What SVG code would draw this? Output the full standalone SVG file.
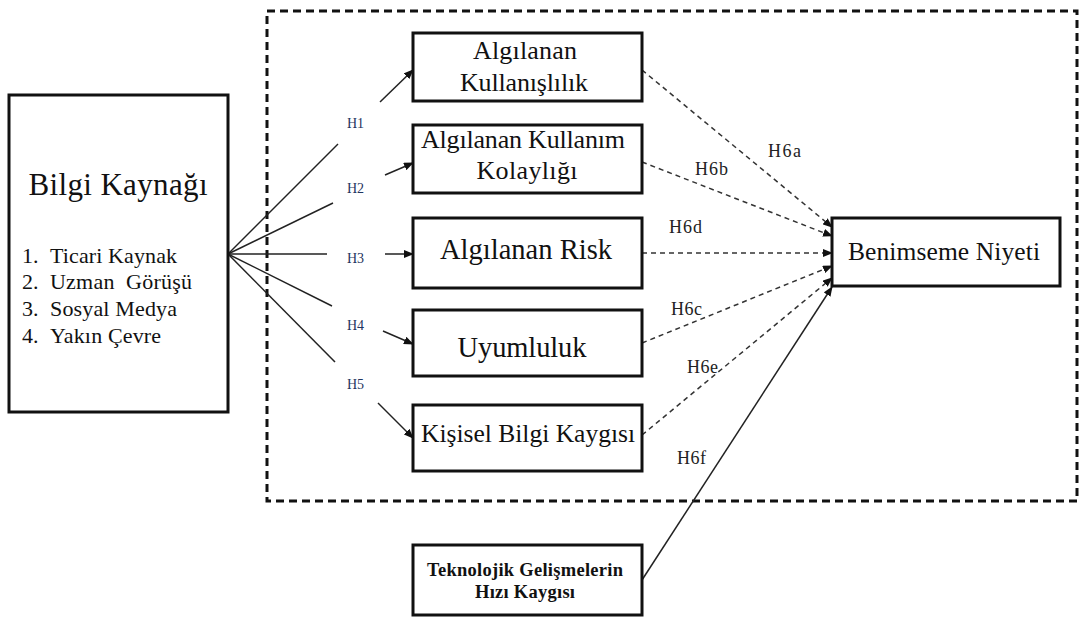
<svg xmlns="http://www.w3.org/2000/svg" width="1080" height="617" viewBox="0 0 1080 617">
  <style>
    .box { fill: #fff; stroke: #111; stroke-width: 3; }
    .frame { fill: none; stroke: #111; stroke-width: 3; stroke-dasharray: 8 5; }
    .t { font-family: "Liberation Serif", "Times New Roman", serif; fill: #111; }
    .c { text-anchor: middle; }
    .hl { font-family: "Liberation Serif", "Times New Roman", serif; font-size: 14px; fill: #1f3560; }
    .h6 { font-family: "Liberation Serif", "Times New Roman", serif; font-size: 18px; fill: #222; }
    .ln { stroke: #222; stroke-width: 1.5; fill: none; }
    .dl { stroke: #333; stroke-width: 1.5; fill: none; stroke-dasharray: 5 4; }
  </style>
  <defs>
    <marker id="arr" markerUnits="userSpaceOnUse" markerWidth="10" markerHeight="8" refX="9" refY="4" orient="auto">
      <path d="M0,0 L10,4 L0,8 Z" fill="#111"/>
    </marker>
  </defs>

  <rect width="1080" height="617" fill="#fff"/>

  <!-- dashed boundary around the mediating constructs -->
  <rect class="frame" x="267" y="11" width="810" height="490"/>

  <g id="connectors">
    <!-- fan from the information source -->
    <line class="ln" x1="228" y1="254" x2="338" y2="144"/>
    <line class="ln" x1="228" y1="254" x2="333" y2="203"/>
    <line class="ln" x1="228" y1="254" x2="327" y2="254"/>
    <line class="ln" x1="228" y1="254" x2="332" y2="306"/>
    <line class="ln" x1="228" y1="254" x2="335" y2="362"/>
    <!-- arrow stubs into the constructs -->
    <line class="ln" x1="380" y1="102" x2="413" y2="70" marker-end="url(#arr)"/>
    <line class="ln" x1="385" y1="175" x2="413" y2="163" marker-end="url(#arr)"/>
    <line class="ln" x1="385" y1="254" x2="413" y2="254" marker-end="url(#arr)"/>
    <line class="ln" x1="383" y1="331" x2="413" y2="344" marker-end="url(#arr)"/>
    <line class="ln" x1="378" y1="403" x2="413" y2="438" marker-end="url(#arr)"/>
    <!-- dashed paths to adoption intention -->
    <line class="dl" x1="642" y1="70" x2="832" y2="227" marker-end="url(#arr)"/>
    <line class="dl" x1="642" y1="162" x2="832" y2="236" marker-end="url(#arr)"/>
    <line class="dl" x1="642" y1="253" x2="832" y2="253" marker-end="url(#arr)"/>
    <line class="dl" x1="642" y1="343" x2="832" y2="266" marker-end="url(#arr)"/>
    <line class="dl" x1="642" y1="435" x2="832" y2="278" marker-end="url(#arr)"/>
    <line class="ln" x1="642" y1="580" x2="832" y2="287" marker-end="url(#arr)"/>

    <!-- hypothesis labels -->
    <text class="hl" x="347" y="128">H1</text>
    <text class="hl" x="347" y="193">H2</text>
    <text class="hl" x="347" y="263">H3</text>
    <text class="hl" x="347" y="330">H4</text>
    <text class="hl" x="347" y="389">H5</text>
    <text class="h6" x="768" y="157" textLength="33">H6a</text>
    <text class="h6" x="695" y="175" textLength="33">H6b</text>
    <text class="h6" x="669" y="233" textLength="33">H6d</text>
    <text class="h6" x="671" y="315" textLength="31">H6c</text>
    <text class="h6" x="687" y="373" textLength="31">H6e</text>
    <text class="h6" x="677" y="464" textLength="29">H6f</text>
  </g>

  <g id="bilgi-kaynagi">
    <rect class="box" x="9" y="95" width="219" height="317"/>
    <text class="t c" x="118" y="195" font-size="31" textLength="179">Bilgi Kaynağı</text>
    <g class="t" font-size="22">
      <text x="22" y="263">1.</text><text x="50" y="263" textLength="127">Ticari Kaynak</text>
      <text x="22" y="289">2.</text><text x="50" y="289" xml:space="preserve" textLength="142">Uzman  Görüşü</text>
      <text x="22" y="316">3.</text><text x="50" y="316" textLength="127">Sosyal Medya</text>
      <text x="22" y="343">4.</text><text x="50" y="343" textLength="111">Yakın Çevre</text>
    </g>
  </g>

  <g id="algilanan-kullanislilik">
    <rect class="box" x="413" y="33" width="229" height="68"/>
    <text class="t c" x="525" y="59" font-size="26" textLength="104">Algılanan</text>
    <text class="t c" x="524" y="91" font-size="26" textLength="128">Kullanışlılık</text>
  </g>

  <g id="algilanan-kullanim-kolayligi">
    <rect class="box" x="413" y="125" width="229" height="68"/>
    <text class="t c" x="523" y="148" font-size="26" textLength="204">Algılanan Kullanım</text>
    <text class="t c" x="527" y="179" font-size="26" textLength="101">Kolaylığı</text>
  </g>

  <g id="algilanan-risk">
    <rect class="box" x="413" y="218" width="229" height="70"/>
    <text class="t c" x="526" y="259" font-size="28.5" textLength="172">Algılanan Risk</text>
  </g>

  <g id="uyumluluk">
    <rect class="box" x="413" y="310" width="229" height="66"/>
    <text class="t c" x="522" y="357" font-size="28.5" textLength="129">Uyumluluk</text>
  </g>

  <g id="kisisel-bilgi-kaygisi">
    <rect class="box" x="413" y="405" width="229" height="66"/>
    <text class="t c" x="528" y="442" font-size="25.5" textLength="214">Kişisel Bilgi Kaygısı</text>
  </g>

  <g id="teknolojik-gelismeler">
    <rect class="box" x="413" y="545" width="229" height="70"/>
    <text class="t c" x="525" y="576" font-size="18.5" font-weight="bold" textLength="196">Teknolojik Gelişmelerin</text>
    <text class="t c" x="525" y="598" font-size="18.5" font-weight="bold" textLength="100">Hızı Kaygısı</text>
  </g>

  <g id="benimseme-niyeti">
    <rect class="box" x="832" y="218" width="228" height="68"/>
    <text class="t c" x="944" y="260" font-size="25.5" textLength="192">Benimseme Niyeti</text>
  </g>
</svg>
